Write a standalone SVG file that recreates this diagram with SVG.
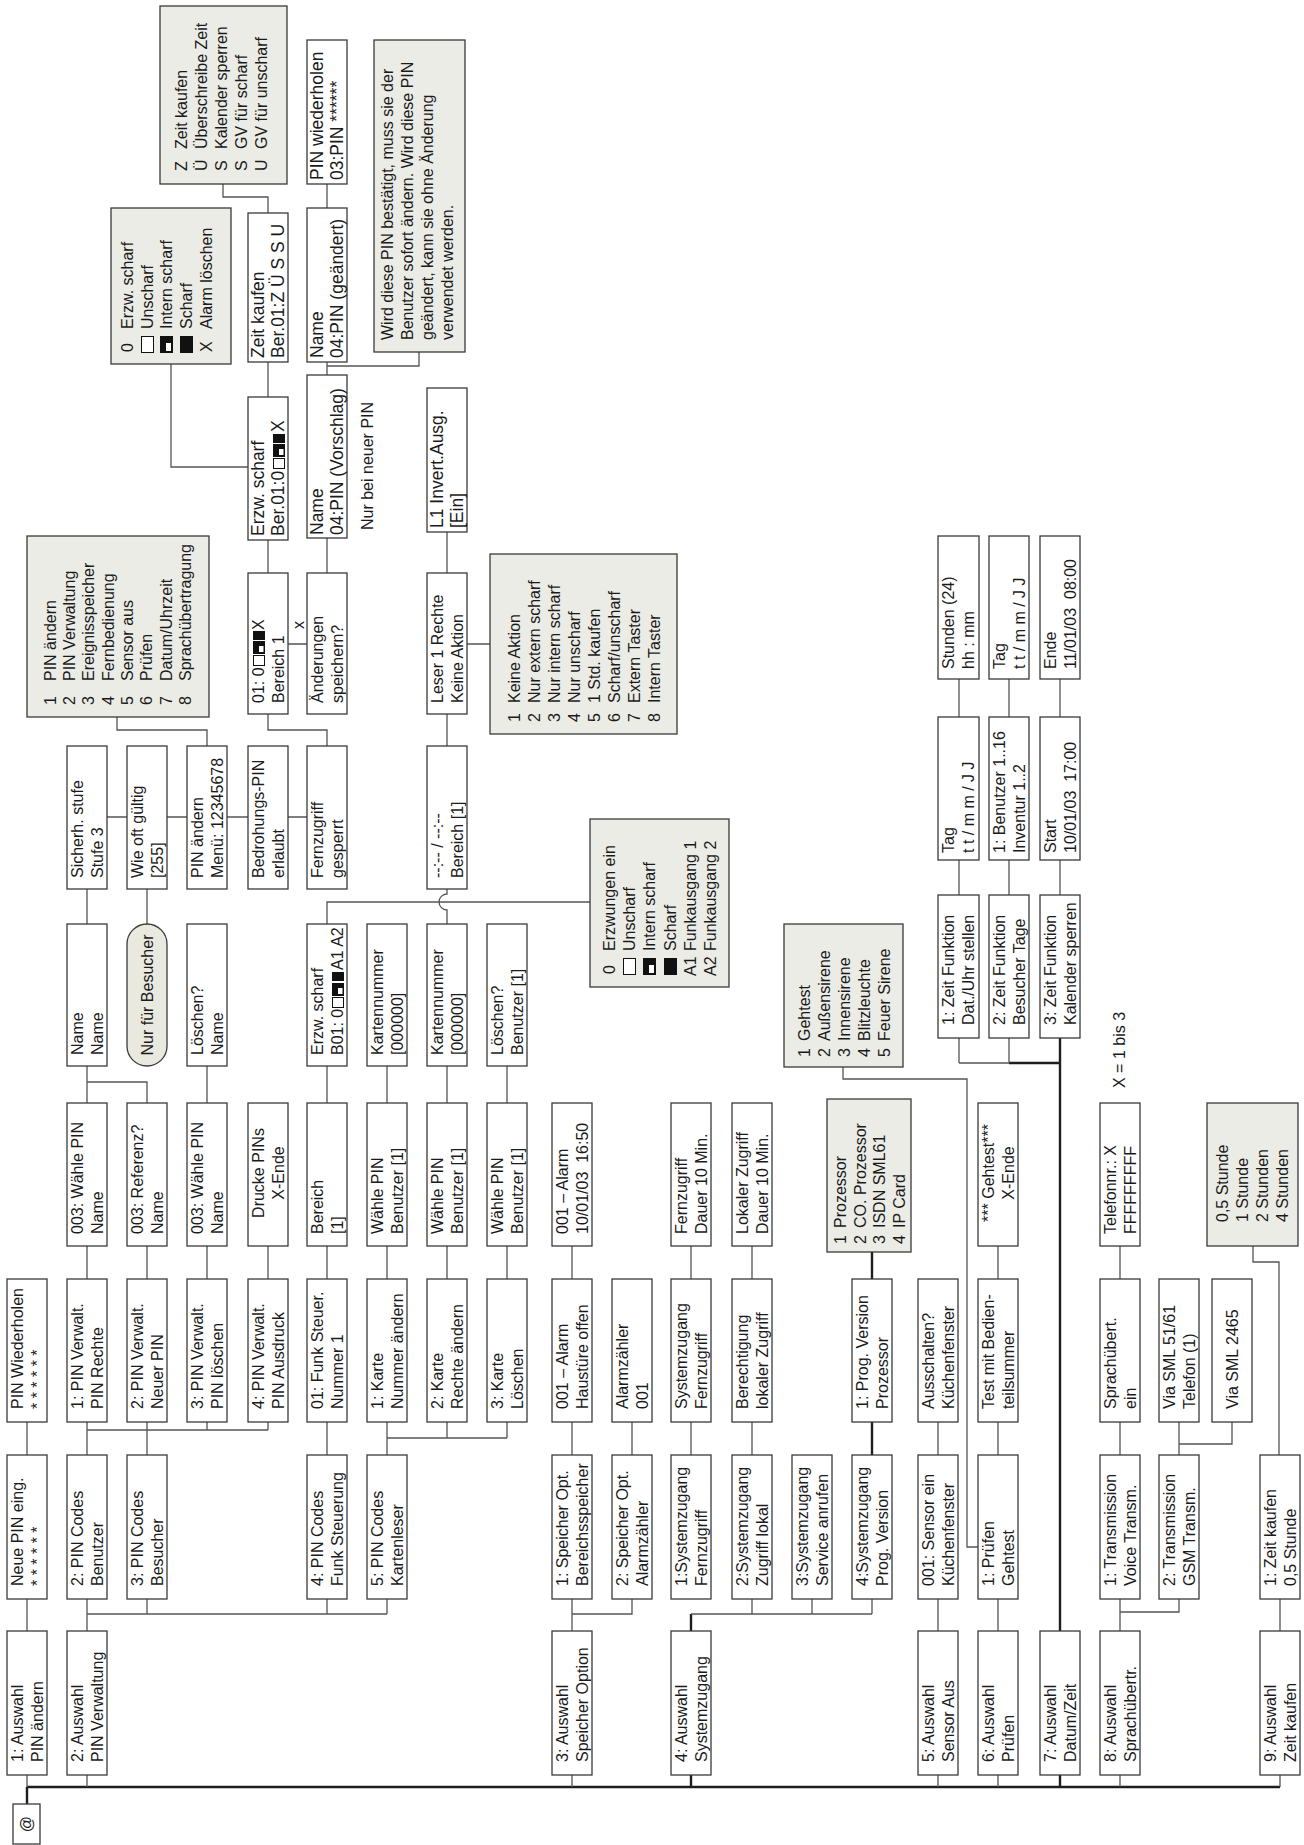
<svg xmlns="http://www.w3.org/2000/svg" width="1304" height="1845" viewBox="0 0 1304 1845">
<style>
text{font-family:"Liberation Sans",Arial,sans-serif;font-size:16px;fill:#1a1a1a}
.g{font-size:17.5px}
.b{fill:#fff;stroke:#3a3a3a;stroke-width:1.3}
.l{fill:#ececE6;stroke:#3a3a3a;stroke-width:1.3}
.c{fill:none;stroke:#555;stroke-width:1.3}
.t{fill:none;stroke:#1e1e1e;stroke-width:2.4}
.m{text-anchor:middle}
</style>
<defs>
<g id="sU"><rect x="0.5" y="0.5" width="10" height="11" fill="#fff" stroke="#111" stroke-width="1"/></g>
<g id="sI"><rect width="13" height="12" fill="#111"/><rect x="2" y="6" width="6" height="4.5" fill="#fff"/></g>
<g id="sS"><rect width="9" height="12" fill="#111"/></g>
<g id="LU"><rect x="0.5" y="0.5" width="16" height="12" fill="#fff" stroke="#111" stroke-width="1"/></g>
<g id="LI"><rect width="17" height="13" fill="#111"/><rect x="2" y="6" width="8" height="5" fill="#fff"/></g>
<g id="LS"><rect width="17" height="13" fill="#111"/></g>
</defs>
<rect width="1304" height="1845" fill="#fff"/>
<g transform="translate(0,1845) rotate(-90)">

<g id="connectors">
<path class="t" d="M41 27L58 27M58 27L58 1280M58 691L70 691M214 691L231 691M390 872L423 872M566 872L593 872M58 1060L70 1060M214 1060L807 1060M782 1009L782 1060"/>
<path class="c" d="M58 27L70 27M214 27L246 27M390 27L423 27
M58 87L70 87M214 87L246 87M390 87L423 87M566 87L599 87M742 87L779 87M921 87L956 87
M231 87L231 387M231 147L246 147M231 327L246 327M231 387L246 387
M415 87L415 268M415 207L423 207M415 268L423 268
M390 147L423 147M566 147L599 147M921 147L956 147M763 87L763 147L742 147
M1028 107L1028 127M1028 167L1028 187M1028 227L1028 248M1028 288L1028 307
M566 207L599 207M742 207L779 207M1099 207L1115 207L1115 117L1128 117
M566 268L599 268M1272 268L1305 268M1448 268L1483 268M1378 248L1378 171L1481 171M1632 268L1648 268L1648 223L1661 223M1201 288L1201 307
M390 327L423 327M566 327L599 327M742 327L779 327M921 327L943 327L943 590M1099 327L1115 327L1115 268L1131 268M1272 327L1307 327M1470 327L1483 327M1479 327L1479 419L1493 419M1637 327L1661 327
M390 387L423 387M407 387L407 507M407 447L423 447M407 507L423 507M566 387L599 387M742 387L779 387
M566 447L599 447M742 447L779 447M921 447L935 447A8 8 0 0 1 951 447L956 447M1099 447L1131 447M1272 447L1313 447M1201 467L1201 490
M566 507L599 507M742 507L779 507
M58 572L70 572M214 572L246 572M231 572L231 632L246 632M390 572L423 572M566 572L599 572M390 632L423 632
M231 691L231 872M231 752L246 752M231 812L246 812M231 872L246 872M390 691L423 691M566 691L599 691M390 752L423 752M566 752L599 752
M58 938L70 938M214 938L246 938M390 938L423 938
M58 998L70 998M214 998L246 998M390 998L423 998M566 998L599 998M778 843L766 843L766 967L298 967L298 978
M782 959L782 1009M782 959L807 959M782 1009L807 1009M950 959L985 959M1128 959L1166 959M950 1009L985 1009M1128 1009L1166 1009M950 1060L985 1060M1128 1060L1166 1060
M58 1120L70 1120M214 1120L246 1120M233 1120L233 1179L246 1179M390 1120L423 1120M566 1120L599 1120
M390 1179L423 1179M401 1179L401 1232L423 1232
M58 1280L70 1280M214 1280L246 1280M390 1279L583 1279L583 1253L599 1253"/>
</g>

<g id="n-at"><rect class="b" x="1" y="13" width="40" height="27"/><text class="m" x="21" y="32">@</text></g>

<g id="n-a1"><rect class="b" x="70" y="7" width="144" height="40"/><text x="83" y="23">1: Auswahl<tspan x="83" y="43">PIN ändern</tspan></text></g>
<g id="n-a2"><rect class="b" x="70" y="67" width="144" height="40"/><text x="83" y="83">2: Auswahl<tspan x="83" y="103">PIN Verwaltung</tspan></text></g>
<g id="n-a3"><rect class="b" x="70" y="552" width="144" height="40"/><text x="83" y="568">3: Auswahl<tspan x="83" y="588">Speicher Option</tspan></text></g>
<g id="n-a4"><rect class="b" x="70" y="671" width="144" height="40"/><text x="83" y="687">4: Auswahl<tspan x="83" y="707">Systemzugang</tspan></text></g>
<g id="n-a5"><rect class="b" x="70" y="918" width="144" height="40"/><text x="83" y="934">5: Auswahl<tspan x="83" y="954">Sensor Aus</tspan></text></g>
<g id="n-a6"><rect class="b" x="70" y="978" width="144" height="40"/><text x="83" y="994">6: Auswahl<tspan x="83" y="1014">Prüfen</tspan></text></g>
<g id="n-a7"><rect class="b" x="70" y="1040" width="144" height="40"/><text x="83" y="1056">7: Auswahl<tspan x="83" y="1076">Datum/Zeit</tspan></text></g>
<g id="n-a8"><rect class="b" x="70" y="1100" width="144" height="40"/><text x="83" y="1116">8: Auswahl<tspan x="83" y="1136">Sprachübertr.</tspan></text></g>
<g id="n-a9"><rect class="b" x="70" y="1260" width="144" height="40"/><text x="83" y="1276">9: Auswahl<tspan x="83" y="1296">Zeit kaufen</tspan></text></g>

<g id="n-c2r1"><rect class="b" x="246" y="7" width="144" height="40"/><text x="259" y="23">Neue PIN eing.<tspan x="259" y="43">* * * * * *</tspan></text></g>
<g id="n-c2r2"><rect class="b" x="246" y="67" width="144" height="40"/><text x="259" y="83">2: PIN Codes<tspan x="259" y="103">Benutzer</tspan></text></g>
<g id="n-c2r3"><rect class="b" x="246" y="127" width="144" height="40"/><text x="259" y="143">3: PIN Codes<tspan x="259" y="163">Besucher</tspan></text></g>
<g id="n-c2r6"><rect class="b" x="246" y="307" width="144" height="40"/><text x="259" y="323">4: PIN Codes<tspan x="259" y="343">Funk Steuerung</tspan></text></g>
<g id="n-c2r7"><rect class="b" x="246" y="367" width="144" height="40"/><text x="259" y="383">5: PIN Codes<tspan x="259" y="403">Kartenleser</tspan></text></g>
<g id="n-c2r10"><rect class="b" x="246" y="552" width="144" height="40"/><text x="259" y="568">1: Speicher Opt.<tspan x="259" y="588">Bereichsspeicher</tspan></text></g>
<g id="n-c2r11"><rect class="b" x="246" y="612" width="144" height="40"/><text x="259" y="628">2: Speicher Opt.<tspan x="259" y="648">Alarmzähler</tspan></text></g>
<g id="n-c2r12"><rect class="b" x="246" y="671" width="144" height="40"/><text x="259" y="687">1:Systemzugang<tspan x="259" y="707">Fernzugriff</tspan></text></g>
<g id="n-c2r13"><rect class="b" x="246" y="732" width="144" height="40"/><text x="259" y="748">2:Systemzugang<tspan x="259" y="768">Zugriff lokal</tspan></text></g>
<g id="n-c2r14"><rect class="b" x="246" y="792" width="144" height="40"/><text x="259" y="808">3:Systemzugang<tspan x="259" y="828">Service anrufen</tspan></text></g>
<g id="n-c2r15"><rect class="b" x="246" y="852" width="144" height="40"/><text x="259" y="868">4:Systemzugang<tspan x="259" y="888">Prog. Version</tspan></text></g>
<g id="n-c2r16"><rect class="b" x="246" y="918" width="144" height="40"/><text x="259" y="934">001: Sensor ein<tspan x="259" y="954">Küchenfenster</tspan></text></g>
<g id="n-c2r17"><rect class="b" x="246" y="978" width="144" height="40"/><text x="259" y="994">1: Prüfen<tspan x="259" y="1014">Gehtest</tspan></text></g>
<g id="n-c2r19"><rect class="b" x="246" y="1100" width="144" height="40"/><text x="259" y="1116">1: Transmission<tspan x="259" y="1136">Voice Transm.</tspan></text></g>
<g id="n-c2r20"><rect class="b" x="246" y="1159" width="144" height="40"/><text x="259" y="1175">2: Transmission<tspan x="259" y="1195">GSM Transm.</tspan></text></g>
<g id="n-c2r22"><rect class="b" x="246" y="1260" width="144" height="40"/><text x="259" y="1276">1: Zeit kaufen<tspan x="259" y="1296">0,5 Stunde</tspan></text></g>

<g id="n-c3r1"><rect class="b" x="423" y="7" width="143" height="40"/><text x="436" y="23">PIN Wiederholen<tspan x="436" y="43">* * * * * *</tspan></text></g>
<g id="n-c3r2"><rect class="b" x="423" y="67" width="143" height="40"/><text x="436" y="83">1: PIN Verwalt.<tspan x="436" y="103">PIN Rechte</tspan></text></g>
<g id="n-c3r3"><rect class="b" x="423" y="127" width="143" height="40"/><text x="436" y="143">2: PIN Verwalt.<tspan x="436" y="163">Neuer PIN</tspan></text></g>
<g id="n-c3r4"><rect class="b" x="423" y="187" width="143" height="40"/><text x="436" y="203">3: PIN Verwalt.<tspan x="436" y="223">PIN löschen</tspan></text></g>
<g id="n-c3r5"><rect class="b" x="423" y="248" width="143" height="40"/><text x="436" y="264">4: PIN Verwalt.<tspan x="436" y="284">PIN Ausdruck</tspan></text></g>
<g id="n-c3r6"><rect class="b" x="423" y="307" width="143" height="40"/><text x="436" y="323">01: Funk Steuer.<tspan x="436" y="343">Nummer 1</tspan></text></g>
<g id="n-c3r7"><rect class="b" x="423" y="367" width="143" height="40"/><text x="436" y="383">1: Karte<tspan x="436" y="403">Nummer ändern</tspan></text></g>
<g id="n-c3r8"><rect class="b" x="423" y="427" width="143" height="40"/><text x="436" y="443">2: Karte<tspan x="436" y="463">Rechte ändern</tspan></text></g>
<g id="n-c3r9"><rect class="b" x="423" y="487" width="143" height="40"/><text x="436" y="503">3: Karte<tspan x="436" y="523">Löschen</tspan></text></g>
<g id="n-c3r10"><rect class="b" x="423" y="552" width="143" height="40"/><text x="436" y="568">001 – Alarm<tspan x="436" y="588">Haustüre offen</tspan></text></g>
<g id="n-c3r11"><rect class="b" x="423" y="612" width="143" height="40"/><text x="436" y="628">Alarmzähler<tspan x="436" y="648">001</tspan></text></g>
<g id="n-c3r12"><rect class="b" x="423" y="671" width="143" height="40"/><text x="436" y="687">Systemzugang<tspan x="436" y="707">Fernzugriff</tspan></text></g>
<g id="n-c3r13"><rect class="b" x="423" y="732" width="143" height="40"/><text x="436" y="748">Berechtigung<tspan x="436" y="768">lokaler Zugriff</tspan></text></g>
<g id="n-c3r15"><rect class="b" x="423" y="852" width="143" height="40"/><text x="436" y="868">1: Prog. Version<tspan x="436" y="888">Prozessor</tspan></text></g>
<g id="n-c3r16"><rect class="b" x="423" y="918" width="143" height="40"/><text x="436" y="934">Ausschalten?<tspan x="436" y="954">Küchenfenster</tspan></text></g>
<g id="n-c3r17"><rect class="b" x="423" y="978" width="143" height="40"/><text x="436" y="994">Test mit Bedien-<tspan x="436" y="1014">teilsummer</tspan></text></g>
<g id="n-c3r19"><rect class="b" x="423" y="1100" width="143" height="40"/><text x="436" y="1116">Sprachübert.<tspan x="436" y="1136">ein</tspan></text></g>
<g id="n-c3r20"><rect class="b" x="423" y="1159" width="143" height="40"/><text x="436" y="1175">Via SML 51/61<tspan x="436" y="1195">Telefon (1)</tspan></text></g>
<g id="n-c3r21"><rect class="b" x="423" y="1212" width="143" height="40"/><text x="436" y="1238">Via SML 2465</text></g>

<g id="n-c4r2"><rect class="b" x="599" y="67" width="143" height="40"/><text x="611" y="83">003: Wähle PIN<tspan x="611" y="103">Name</tspan></text></g>
<g id="n-c4r3"><rect class="b" x="599" y="127" width="143" height="40"/><text x="611" y="143">003: Referenz?<tspan x="611" y="163">Name</tspan></text></g>
<g id="n-c4r4"><rect class="b" x="599" y="187" width="143" height="40"/><text x="611" y="203">003: Wähle PIN<tspan x="611" y="223">Name</tspan></text></g>
<g id="n-c4r5"><rect class="b" x="599" y="248" width="143" height="40"/><text class="m" x="672" y="264">Drucke PINs<tspan x="672" y="284">X-Ende</tspan></text></g>
<g id="n-c4r6"><rect class="b" x="599" y="307" width="143" height="40"/><text x="611" y="323">Bereich<tspan x="611" y="343">[1]</tspan></text></g>
<g id="n-c4r7"><rect class="b" x="599" y="367" width="143" height="40"/><text x="611" y="383">Wähle PIN<tspan x="611" y="403">Benutzer [1]</tspan></text></g>
<g id="n-c4r8"><rect class="b" x="599" y="427" width="143" height="40"/><text x="611" y="443">Wähle PIN<tspan x="611" y="463">Benutzer [1]</tspan></text></g>
<g id="n-c4r9"><rect class="b" x="599" y="487" width="143" height="40"/><text x="611" y="503">Wähle PIN<tspan x="611" y="523">Benutzer [1]</tspan></text></g>
<g id="n-c4r10"><rect class="b" x="599" y="552" width="143" height="40"/><text x="611" y="568" xml:space="preserve">001 – Alarm<tspan x="611" y="588">10/01/03  16:50</tspan></text></g>
<g id="n-c4r12"><rect class="b" x="599" y="671" width="143" height="40"/><text x="611" y="687">Fernzugriff<tspan x="611" y="707">Dauer 10 Min.</tspan></text></g>
<g id="n-c4r13"><rect class="b" x="599" y="732" width="143" height="40"/><text x="611" y="748">Lokaler Zugriff<tspan x="611" y="768">Dauer 10 Min.</tspan></text></g>
<g id="n-c4r17"><rect class="b" x="599" y="978" width="143" height="40"/><text class="m" x="672" y="994">*** Gehtest***<tspan x="672" y="1014">X-Ende</tspan></text></g>
<g id="n-c4r19"><rect class="b" x="599" y="1100" width="143" height="40"/><text x="611" y="1116">Telefonnr.: X<tspan x="611" y="1136">FFFFFFFFF</tspan></text></g>

<g id="n-c5r2"><rect class="b" x="779" y="67" width="142" height="40"/><text x="790" y="83">Name<tspan x="790" y="103">Name</tspan></text></g>
<g id="n-c5r3"><rect x="779" y="127" width="142" height="40" rx="20" fill="#e9e9df" stroke="#3a3a3a" stroke-width="1.3"/><text class="m" x="850" y="153">Nur für Besucher</text></g>
<g id="n-c5r4"><rect class="b" x="779" y="187" width="142" height="40"/><text x="790" y="203">Löschen?<tspan x="790" y="223">Name</tspan></text></g>
<g id="n-c5r6"><rect class="b" x="779" y="307" width="142" height="40"/><text x="790" y="323">Erzw. scharf<tspan x="790" y="343">B01: 0</tspan></text><use href="#sU" x="837" y="332"/><use href="#sI" x="849" y="332"/><use href="#sS" x="864" y="332"/><text x="875" y="343">A1 A2</text></g>
<g id="n-c5r7"><rect class="b" x="779" y="367" width="142" height="40"/><text x="790" y="383">Kartennummer<tspan x="790" y="403">[000000]</tspan></text></g>
<g id="n-c5r8"><rect class="b" x="779" y="427" width="142" height="40"/><text x="790" y="443">Kartennummer<tspan x="790" y="463">[000000]</tspan></text></g>
<g id="n-c5r9"><rect class="b" x="779" y="487" width="142" height="40"/><text x="790" y="503">Löschen?<tspan x="790" y="523">Benutzer [1]</tspan></text></g>

<g id="n-c6r2"><rect class="b" x="956" y="67" width="143" height="40"/><text x="967" y="83">Sicherh. stufe<tspan x="967" y="103">Stufe 3</tspan></text></g>
<g id="n-c6r3"><rect class="b" x="956" y="127" width="143" height="40"/><text x="967" y="143">Wie oft gültig<tspan x="967" y="163">[255]</tspan></text></g>
<g id="n-c6r4"><rect class="b" x="956" y="187" width="143" height="40"/><text x="967" y="203">PIN ändern<tspan x="967" y="223">Menü: 12345678</tspan></text></g>
<g id="n-c6r5"><rect class="b" x="956" y="248" width="143" height="40"/><text x="967" y="264">Bedrohungs-PIN<tspan x="967" y="284">erlaubt</tspan></text></g>
<g id="n-c6r6"><rect class="b" x="956" y="307" width="143" height="40"/><text x="967" y="323">Fernzugriff<tspan x="967" y="343">gesperrt</tspan></text></g>
<g id="n-c6r8"><rect class="b" x="956" y="427" width="143" height="40"/><text x="967" y="443">--:-- / --:--<tspan x="967" y="463">Bereich [1]</tspan></text></g>

<g id="n-c7r5"><rect class="b" x="1131" y="248" width="141" height="40"/><text x="1142" y="264">01: 0<tspan x="1142" y="284">Bereich 1</tspan></text><use href="#sU" x="1179" y="253"/><use href="#sI" x="1191" y="253"/><use href="#sS" x="1205" y="253"/><text x="1215" y="264">X</text></g>
<g id="n-c7r6"><rect class="b" x="1131" y="307" width="141" height="40"/><text x="1142" y="323">Änderungen<tspan x="1142" y="343">speichern?</tspan></text></g>
<g id="n-c7r8"><rect class="b" x="1131" y="427" width="141" height="40"/><text x="1142" y="443">Leser 1 Rechte<tspan x="1142" y="463">Keine Aktion</tspan></text></g>

<g id="n-c8r5"><rect class="b" x="1305" y="248" width="143" height="40"/><text class="g" x="1309" y="264">Erzw. scharf<tspan x="1309" y="284">Ber.01:0</tspan></text><use href="#sU" x="1376" y="273"/><use href="#sI" x="1388" y="273"/><use href="#sS" x="1402" y="273"/><text class="g" x="1413" y="284">X</text></g>
<g id="n-c8r6"><rect class="b" x="1307" y="307" width="163" height="40"/><text class="g" x="1310" y="323">Name<tspan x="1310" y="343">04:PIN (Vorschlag)</tspan></text></g>
<g id="n-c8r8"><rect class="b" x="1313" y="427" width="144" height="40"/><text class="g" x="1317" y="443">L1 Invert.Ausg.<tspan x="1317" y="463">[Ein]</tspan></text></g>

<g id="n-c9r5"><rect class="b" x="1483" y="248" width="149" height="40"/><text class="g" x="1487" y="264">Zeit kaufen<tspan x="1487" y="284">Ber.01:Z Ü S S U</tspan></text></g>
<g id="n-c9r6"><rect class="b" x="1483" y="307" width="154" height="40"/><text class="g" x="1487" y="323">Name<tspan x="1487" y="343">04:PIN (geändert)</tspan></text></g>
<g id="n-c10r6"><rect class="b" x="1661" y="307" width="144" height="40"/><text class="g" x="1665" y="323">PIN wiederholen<tspan x="1665" y="343">03:PIN ******</tspan></text></g>

<g id="n-z1"><rect class="b" x="807" y="938" width="143" height="41"/><text x="820" y="954">1: Zeit Funktion<tspan x="820" y="974">Dat./Uhr stellen</tspan></text></g>
<g id="n-z2"><rect class="b" x="985" y="938" width="143" height="41"/><text x="992" y="954">Tag<tspan x="992" y="974">t t / m m / J J</tspan></text></g>
<g id="n-z3"><rect class="b" x="1166" y="938" width="143" height="41"/><text x="1176" y="954">Stunden (24)<tspan x="1176" y="974">hh : mm</tspan></text></g>
<g id="n-z4"><rect class="b" x="807" y="989" width="143" height="40"/><text x="820" y="1005">2: Zeit Funktion<tspan x="820" y="1025">Besucher Tage</tspan></text></g>
<g id="n-z5"><rect class="b" x="985" y="989" width="143" height="40"/><text x="992" y="1005">1: Benutzer 1..16<tspan x="992" y="1025">Inventur 1..2</tspan></text></g>
<g id="n-z6"><rect class="b" x="1166" y="989" width="143" height="40"/><text x="1176" y="1005">Tag<tspan x="1176" y="1025">t t / m m / J J</tspan></text></g>
<g id="n-z7"><rect class="b" x="807" y="1040" width="143" height="40"/><text x="820" y="1056">3: Zeit Funktion<tspan x="820" y="1076">Kalender sperren</tspan></text></g>
<g id="n-z8"><rect class="b" x="985" y="1040" width="143" height="40"/><text x="992" y="1056" xml:space="preserve">Start<tspan x="992" y="1076">10/01/03  17:00</tspan></text></g>
<g id="n-z9"><rect class="b" x="1166" y="1040" width="143" height="40"/><text x="1176" y="1056" xml:space="preserve">Ende<tspan x="1176" y="1076">11/01/03  08:00</tspan></text></g>

<g id="lg-menu"><rect class="l" x="1128" y="27" width="181" height="182"/>
<text x="1140" y="56">1<tspan x="1140" y="75">2</tspan><tspan x="1140" y="94">3</tspan><tspan x="1140" y="114">4</tspan><tspan x="1140" y="133">5</tspan><tspan x="1140" y="152">6</tspan><tspan x="1140" y="172">7</tspan><tspan x="1140" y="191">8</tspan></text>
<text x="1164" y="56">PIN ändern<tspan x="1164" y="75">PIN Verwaltung</tspan><tspan x="1164" y="94">Ereignisspeicher</tspan><tspan x="1164" y="114">Fernbedienung</tspan><tspan x="1164" y="133">Sensor aus</tspan><tspan x="1164" y="152">Prüfen</tspan><tspan x="1164" y="172">Datum/Uhrzeit</tspan><tspan x="1164" y="191">Sprachübertragung</tspan></text></g>

<g id="lg-ber"><rect class="l" x="1481" y="111" width="156" height="120"/>
<text x="1493" y="133">0</text><use href="#LU" x="1492" y="141"/><use href="#LI" x="1492" y="160"/><use href="#LS" x="1492" y="180"/><text x="1493" y="212">X</text>
<text x="1516" y="133">Erzw. scharf<tspan x="1516" y="153">Unscharf</tspan><tspan x="1516" y="172">Intern scharf</tspan><tspan x="1516" y="192">Scharf</tspan><tspan x="1516" y="212">Alarm löschen</tspan></text></g>

<g id="lg-zeit"><rect class="l" x="1661" y="160" width="178" height="127"/>
<text x="1674" y="187">Z<tspan x="1674" y="207">Ü</tspan><tspan x="1674" y="227">S</tspan><tspan x="1674" y="247">S</tspan><tspan x="1674" y="267">U</tspan></text>
<text x="1696" y="187">Zeit kaufen<tspan x="1696" y="207">Überschreibe Zeit</tspan><tspan x="1696" y="227">Kalender sperren</tspan><tspan x="1696" y="247">GV für scharf</tspan><tspan x="1696" y="267">GV für unscharf</tspan></text></g>

<g id="lg-funk"><rect class="l" x="858" y="590" width="168" height="139"/>
<text x="871" y="615">0</text><use href="#LU" x="870" y="623"/><use href="#LI" x="870" y="643"/><use href="#LS" x="870" y="664"/><text x="869" y="696">A1<tspan x="869" y="716">A2</tspan></text>
<text x="894" y="615">Erzwungen ein<tspan x="894" y="635">Unscharf</tspan><tspan x="894" y="655">Intern scharf</tspan><tspan x="894" y="676">Scharf</tspan><tspan x="894" y="696">Funkausgang 1</tspan><tspan x="894" y="716">Funkausgang 2</tspan></text></g>

<g id="lg-leser"><rect class="l" x="1111" y="490" width="180" height="187"/>
<text x="1123" y="520">1<tspan x="1123" y="540">2</tspan><tspan x="1123" y="560">3</tspan><tspan x="1123" y="580">4</tspan><tspan x="1123" y="600">5</tspan><tspan x="1123" y="620">6</tspan><tspan x="1123" y="640">7</tspan><tspan x="1123" y="660">8</tspan></text>
<text x="1142" y="520">Keine Aktion<tspan x="1142" y="540">Nur extern scharf</tspan><tspan x="1142" y="560">Nur intern scharf</tspan><tspan x="1142" y="580">Nur unscharf</tspan><tspan x="1142" y="600">1 Std. kaufen</tspan><tspan x="1142" y="620">Scharf/unscharf</tspan><tspan x="1142" y="640">Extern Taster</tspan><tspan x="1142" y="660">Intern Taster</tspan></text></g>

<g id="lg-geh"><rect class="l" x="778" y="784" width="143" height="119"/>
<text x="788" y="810">1<tspan x="788" y="830">2</tspan><tspan x="788" y="850">3</tspan><tspan x="788" y="870">4</tspan><tspan x="788" y="890">5</tspan></text>
<text x="804" y="810">Gehtest<tspan x="804" y="830">Außensirene</tspan><tspan x="804" y="850">Innensirene</tspan><tspan x="804" y="870">Blitzleuchte</tspan><tspan x="804" y="890">Feuer Sirene</tspan></text></g>

<g id="lg-proz"><rect class="l" x="593" y="827" width="153" height="84"/>
<text x="601" y="846">1<tspan x="601" y="866">2</tspan><tspan x="601" y="885">3</tspan><tspan x="601" y="905">4</tspan></text>
<text x="617" y="846">Prozessor<tspan x="617" y="866">CO. Prozessor</tspan><tspan x="617" y="885">ISDN SML61</tspan><tspan x="617" y="905">IP Card</tspan></text></g>

<g id="lg-std"><rect class="l" x="599" y="1207" width="143" height="91"/>
<text x="623" y="1228">0,5 Stunde<tspan x="623" y="1248">1 Stunde</tspan><tspan x="623" y="1268">2 Stunden</tspan><tspan x="623" y="1288">4 Stunden</tspan></text></g>

<g id="note"><rect class="l" x="1493" y="374" width="312" height="91"/>
<text x="1505" y="393">Wird diese PIN bestätigt, muss sie der<tspan x="1505" y="413">Benutzer sofort ändern. Wird diese PIN</tspan><tspan x="1505" y="433">geändert, kann sie ohne Änderung</tspan><tspan x="1505" y="453">verwendet werden.</tspan></text></g>

<g id="labels">
<text x="1315" y="373">Nur bei neuer PIN</text>
<text x="757" y="1125">X = 1 bis 3</text>
<text x="1216" y="304">x</text>
</g>
</g>
</svg>
